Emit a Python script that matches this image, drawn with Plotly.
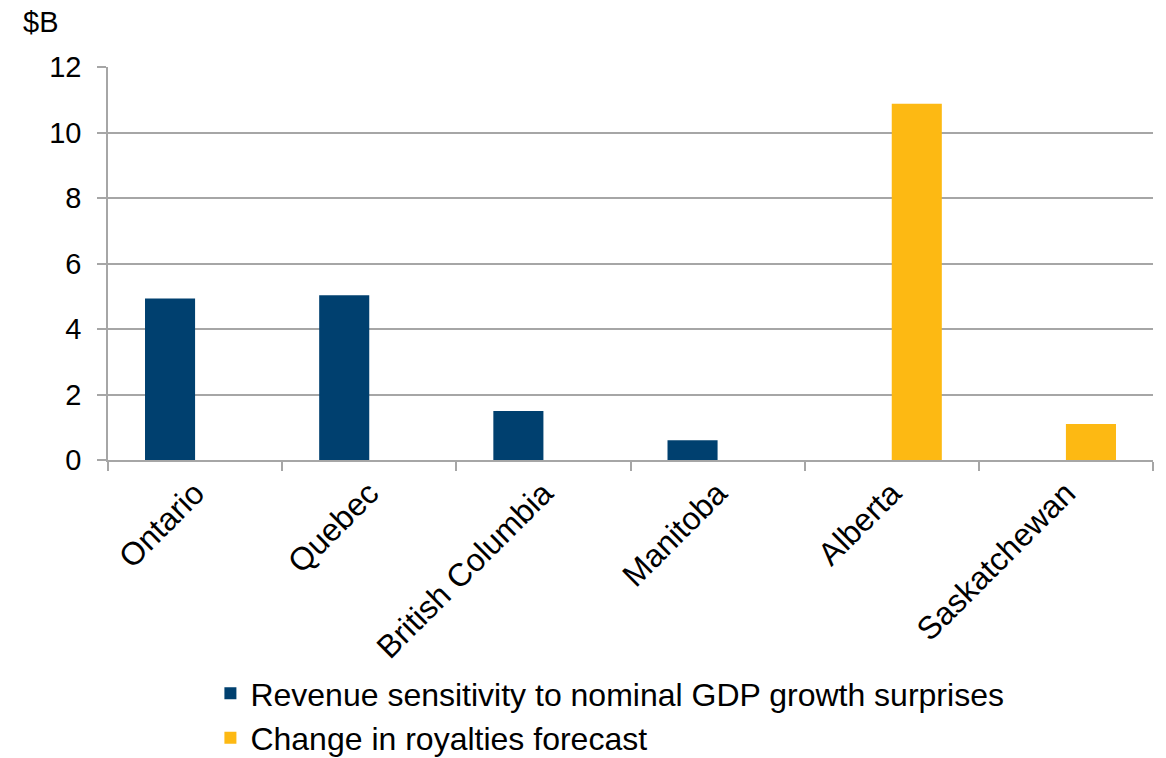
import plotly.graph_objects as go

categories = ["Ontario", "Quebec", "British Columbia", "Manitoba", "Alberta", "Saskatchewan"]
revenue_sensitivity = [4.93, 5.03, 1.5, 0.6, None, None]
royalties_change = [None, None, None, None, 10.88, 1.1]
series_names = ["Revenue sensitivity to nominal GDP growth surprises", "Change in royalties forecast"]
y_ticks = [0, 2, 4, 6, 8, 10, 12]

FONT = "Liberation Sans, Arial, sans-serif"
GRID = "#A6A6A6"

fig = go.Figure()
fig.add_trace(go.Bar(x=categories, y=revenue_sensitivity, name=series_names[0], legendgroup="a",
                     marker=dict(color="#00406F", line=dict(width=0))))
fig.add_trace(go.Bar(x=categories, y=royalties_change, name=series_names[1], legendgroup="b",
                     marker=dict(color="#FDB913", line=dict(width=0))))

fig.update_layout(
    width=1166, height=758,
    margin=dict(l=108, r=13, t=67, b=298, autoexpand=False),
    paper_bgcolor="white", plot_bgcolor="white",
    barmode="group", bargap=0.425, bargroupgap=0,
    font=dict(family=FONT, size=28, color="black"),
    showlegend=True,
    legend=dict(orientation="v", x=0.098, y=-0.524, xanchor="left", yanchor="top",
                font=dict(size=32), itemwidth=30, tracegroupgap=0, traceorder="grouped"),
    xaxis=dict(type="category", tickson="boundaries", ticks="outside", ticklen=9,
               tickcolor=GRID, tickwidth=1.5, showline=True, linecolor=GRID, linewidth=1.5,
               showgrid=False, tickangle=-45, tickfont=dict(size=32), fixedrange=True,
               automargin=False),
    yaxis=dict(range=[0, 12], tickvals=y_ticks, ticks="outside", ticklen=9, tickcolor=GRID,
               tickwidth=1.5, showline=True, linecolor=GRID, linewidth=1.5,
               showgrid=True, gridcolor=GRID, gridwidth=1.5, zeroline=False,
               ticklabelstandoff=10, tickfont=dict(size=29), fixedrange=True,
               automargin=False),
    annotations=[dict(text="$B", xref="paper", yref="paper", x=-0.083, y=1.16,
                      xanchor="left", yanchor="top", showarrow=False,
                      font=dict(size=29))],
)

fig.write_html("out.html")
